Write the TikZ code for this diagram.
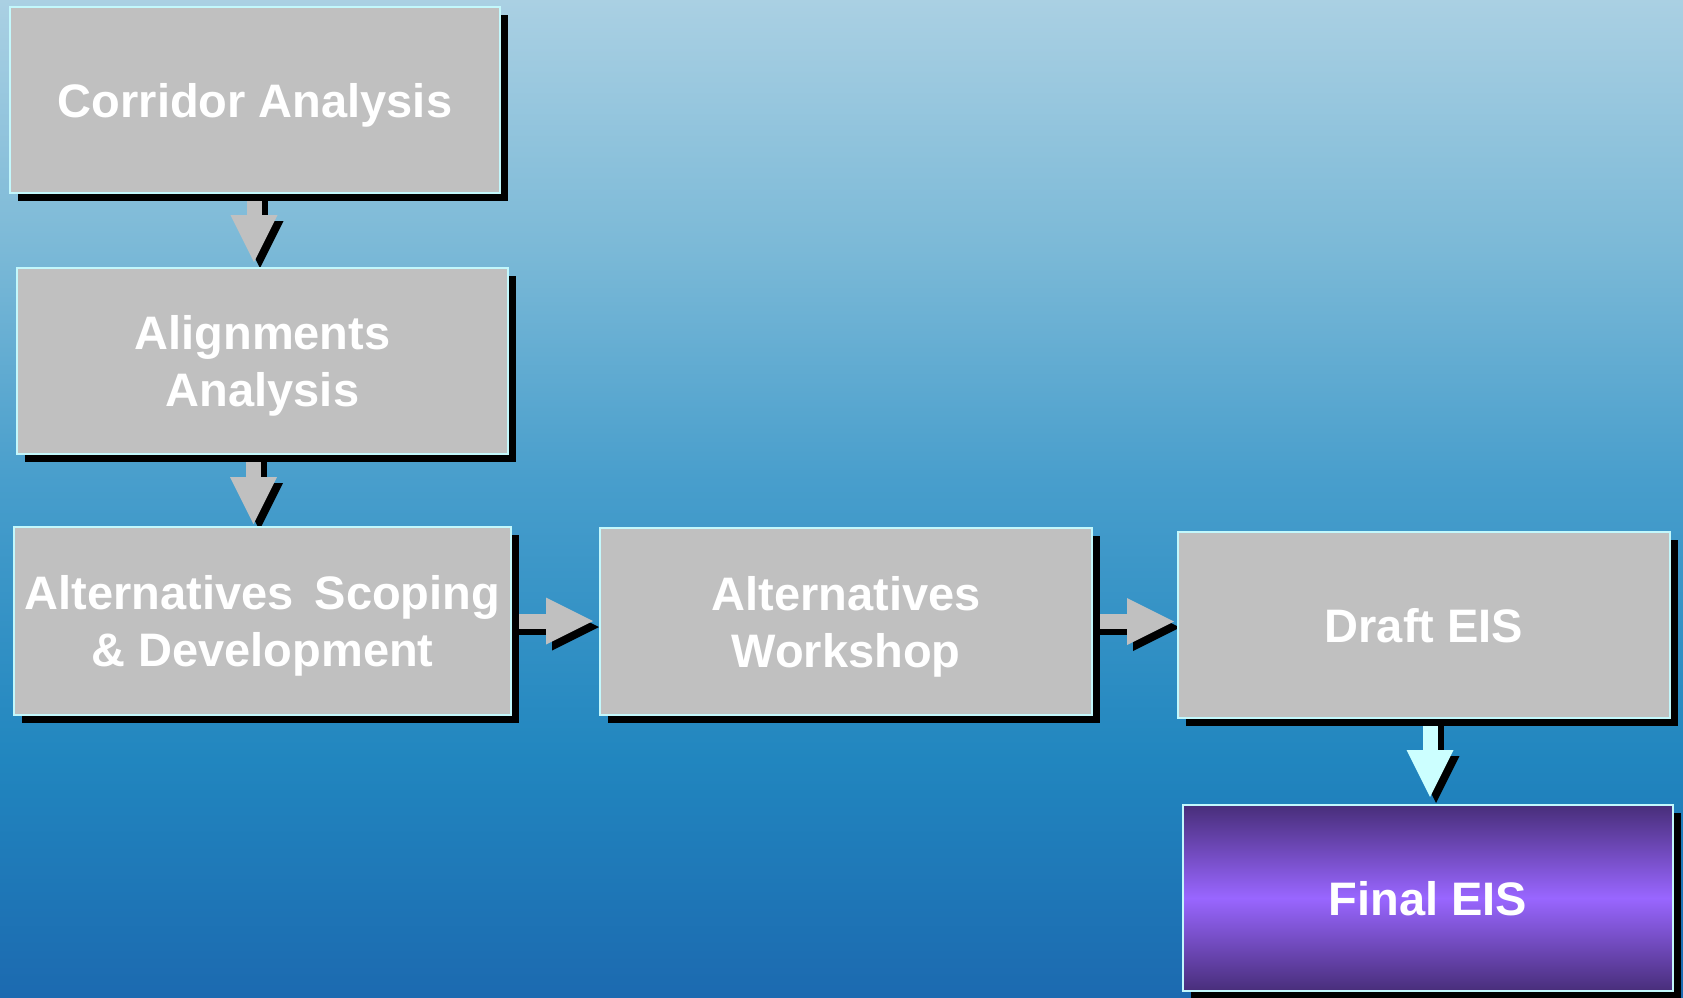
\documentclass[tikz,border=0pt]{standalone}
\usepackage{fontspec}
\setmainfont{Liberation Sans}
\usetikzlibrary{arrows.meta,shadows,calc}
\definecolor{boxgray}{RGB}{192,192,192}
\definecolor{boxedge}{RGB}{195,248,252}
\definecolor{cyanarrow}{RGB}{204,255,255}
\definecolor{purpdark}{RGB}{72,46,122}
\definecolor{purplight}{RGB}{153,102,255}
\definecolor{bgA}{RGB}{28,106,176}
\definecolor{bgB}{RGB}{33,134,191}
\definecolor{bgC}{RGB}{72,158,204}
\definecolor{bgD}{RGB}{123,185,215}
\definecolor{bgE}{RGB}{170,208,227}
\pgfdeclareverticalshading{bgshade}{100bp}{color(0bp)=(bgA); color(25bp)=(bgA); color(36.9bp)=(bgB); color(50.9bp)=(bgC); color(62.5bp)=(bgD); color(75bp)=(bgE); color(100bp)=(bgE)}
\pgfdeclarelayer{bg}
\pgfdeclarelayer{arr}
\pgfsetlayers{bg,arr,main}
\tikzset{
  box/.style={rectangle, draw=boxedge, line width=2pt, fill=boxgray, inner sep=0pt,
    text=white, align=center, text depth=-4.5pt,
    font=\fontsize{47pt}{57pt}\selectfont\bfseries,
    general shadow={fill=black, shadow xshift=8pt, shadow yshift=-8pt}},
  flow/.style={line width=15pt, draw=boxgray,
    -{Triangle[width=47pt,length=47pt,line width=0pt]}},
  flowshadow/.style={line width=15pt, draw=black,
    -{Triangle[width=47pt,length=47pt,line width=0pt]},
    transform canvas={xshift=6pt,yshift=-6pt}},
}
\begin{document}
\begin{tikzpicture}[x=1pt,y=-1pt]
\begin{pgfonlayer}{bg}
\shade[shading=bgshade] (0,0) rectangle (1683,997);
\end{pgfonlayer}
\useasboundingbox (0,0) rectangle (1683,997);

\node[box, minimum width=490pt, minimum height=186pt] (a) at (255,100) {Corridor Analysis};
\node[box, minimum width=491pt, minimum height=186pt] (b) at (262.5,361) {Alignments\\Analysis};
\node[box, minimum width=497pt, minimum height=188pt] (c) at (262.5,621) {Alternatives\ \,Scoping\\\& Development};
\node[box, minimum width=492pt, minimum height=187pt] (d) at (846,621.5) {Alternatives\\Workshop};
\node[box, minimum width=492pt, minimum height=186pt] (e) at (1424,625) {Draft EIS};
\node[box, minimum width=490pt, minimum height=186pt,
      top color=purpdark, bottom color=purpdark, middle color=purplight] (f) at (1428,898) {Final EIS};

\begin{pgfonlayer}{arr}
% shadows
\draw[flowshadow, shorten >=5pt] ([xshift=-1pt]a.south) -- ([xshift=-1pt]a.south |- b.north);
\draw[flowshadow, shorten >=2pt] ([xshift=-9pt]b.south) -- ([xshift=-9pt]b.south |- c.north);
\draw[flowshadow, shorten >=6pt] (c.east) -- (c.east -| d.west);
\draw[flowshadow, shorten >=3pt] (d.east) -- (d.east -| e.west);
\draw[flowshadow, shorten >=7pt] ([xshift=2pt]f.north |- e.south) -- ([xshift=2pt]f.north);
% arrows
\draw[flow, shorten >=5pt] ([xshift=-1pt]a.south) -- ([xshift=-1pt]a.south |- b.north);
\draw[flow, shorten >=2pt] ([xshift=-9pt]b.south) -- ([xshift=-9pt]b.south |- c.north);
\draw[flow, shorten >=6pt] (c.east) -- (c.east -| d.west);
\draw[flow, shorten >=3pt] (d.east) -- (d.east -| e.west);
\draw[flow, draw=cyanarrow, shorten >=7pt] ([xshift=2pt]f.north |- e.south) -- ([xshift=2pt]f.north);
\end{pgfonlayer}
\end{tikzpicture}
\end{document}
